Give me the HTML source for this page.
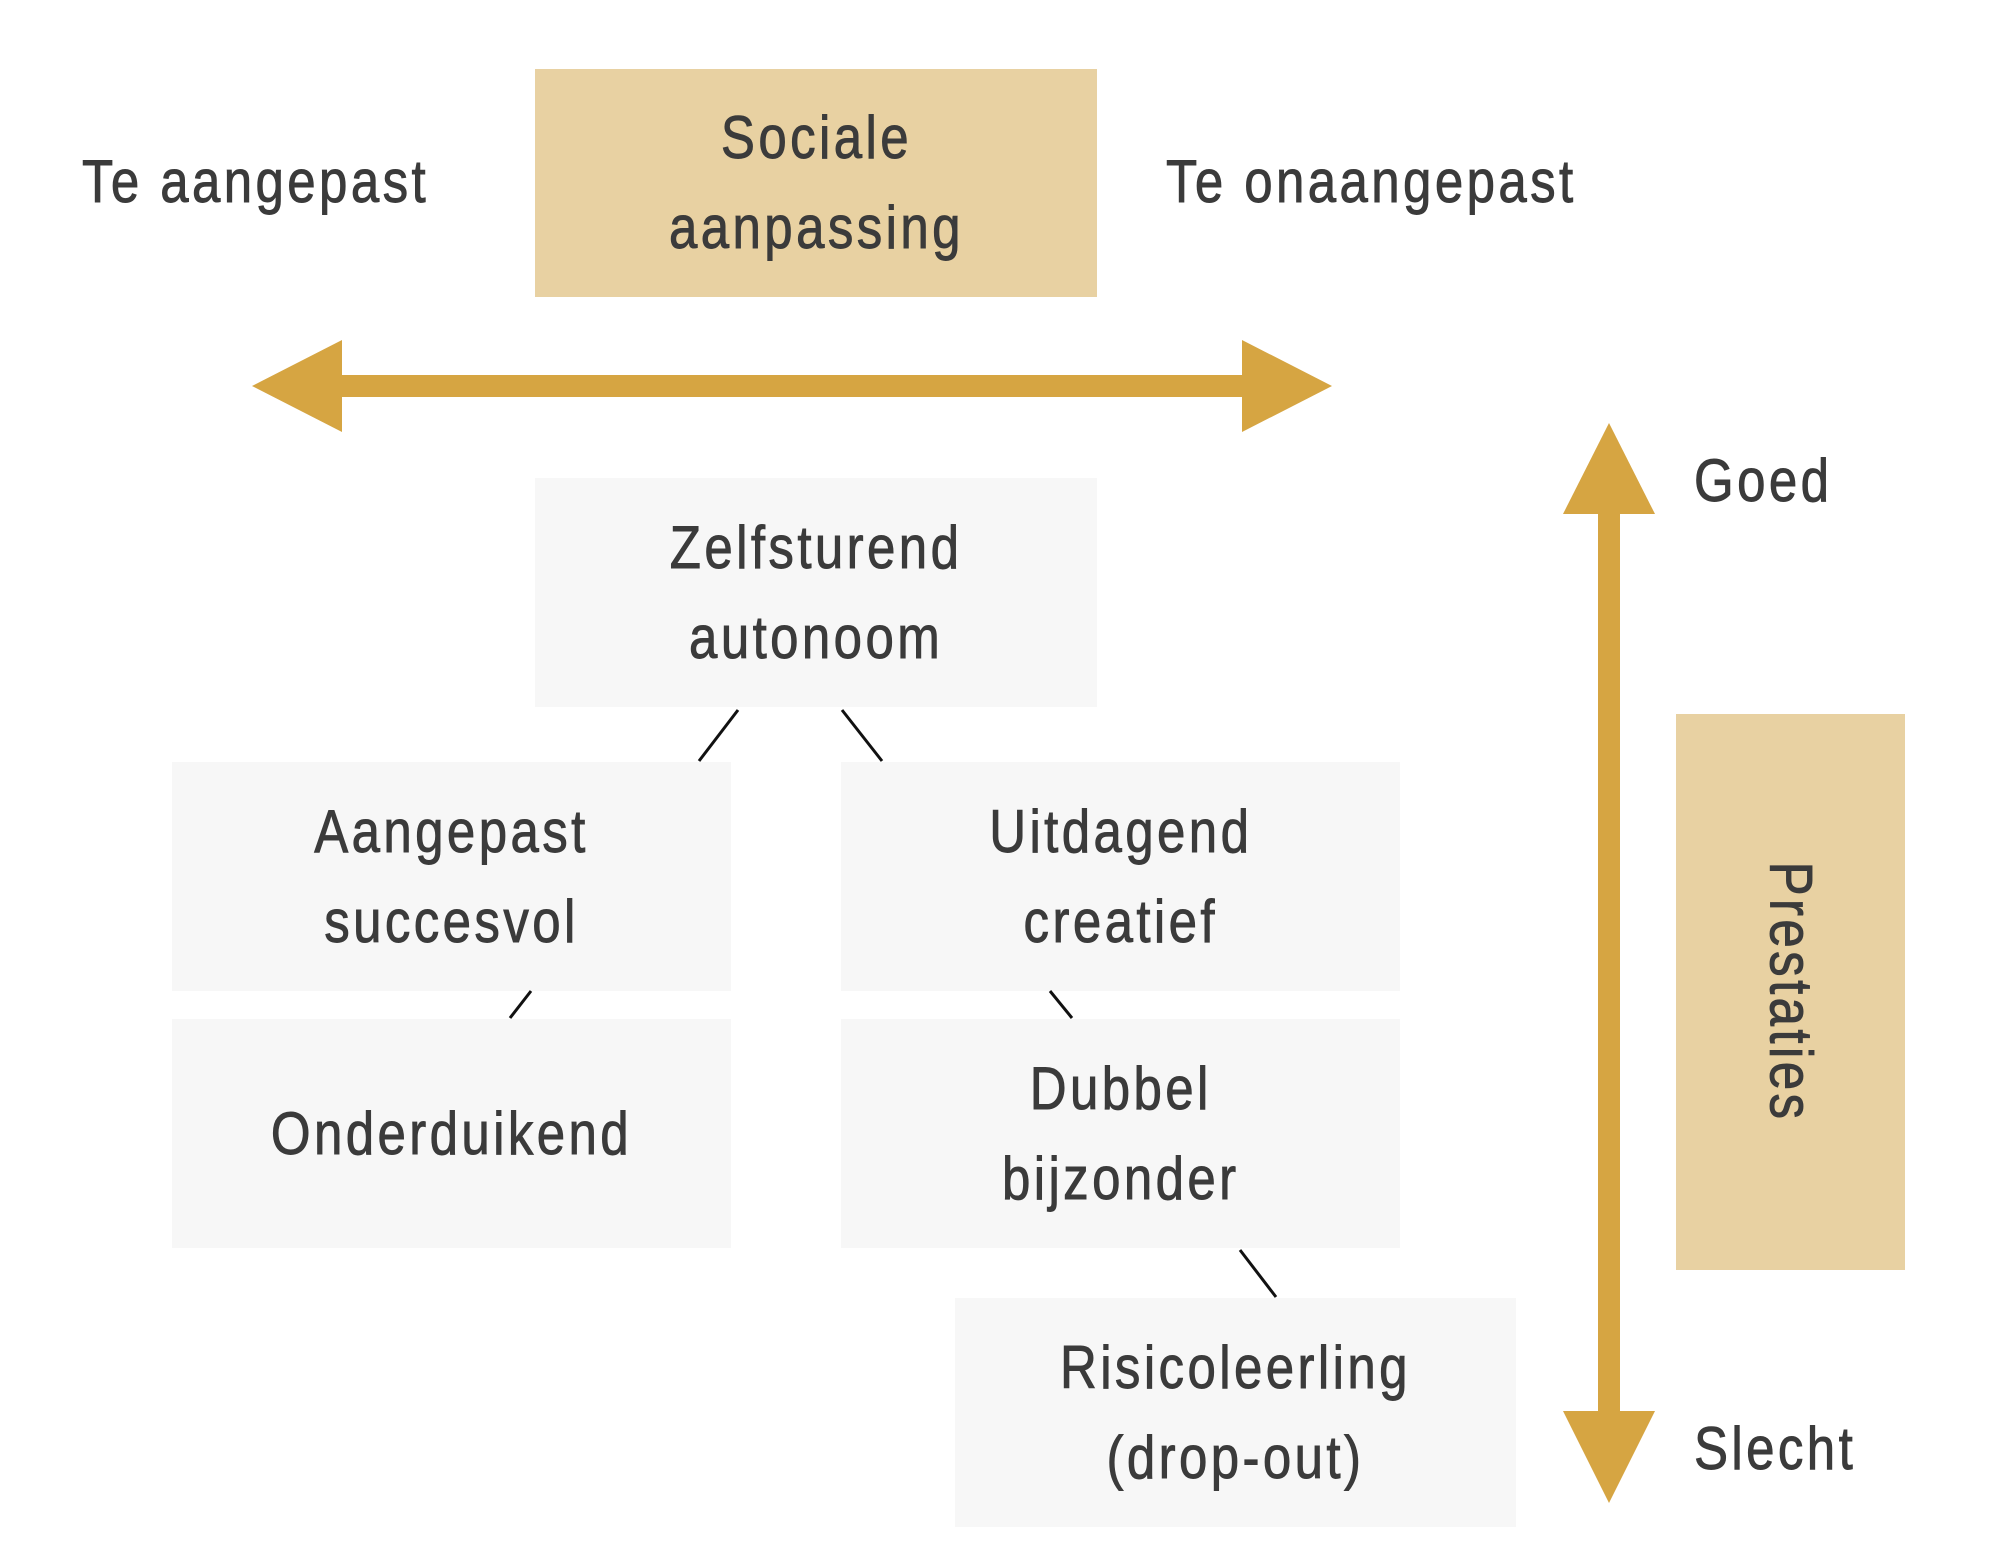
<!DOCTYPE html>
<html><head><meta charset="utf-8"><style>
body{margin:0;width:1994px;height:1562px;background:#fff;position:relative;overflow:hidden;font-family:"Liberation Sans",sans-serif;color:#3b3b3b}
.b{position:absolute;background:#f7f7f7;display:flex;align-items:center;justify-content:center;text-align:center}
.g{background:#e8d1a2}
.t{font-size:60px;line-height:90px;transform:scaleX(0.85);white-space:nowrap;letter-spacing:4px;-webkit-text-stroke:0.9px #3b3b3b}
.l{position:absolute;font-size:60px;transform:scaleX(0.85);transform-origin:left center;white-space:nowrap;letter-spacing:4px;-webkit-text-stroke:0.9px #3b3b3b}
</style></head><body>
<div class="b g" style="left:535px;top:69px;width:562px;height:228px"><div class="t">Sociale<br>aanpassing</div></div>
<div class="l" style="left:82px;top:147px">Te aangepast</div>
<div class="l" style="left:1166px;top:147px">Te onaangepast</div>
<div class="l" style="left:1694px;top:446px">Goed</div>
<div class="l" style="left:1694px;top:1414px">Slecht</div>
<div class="b" style="left:535px;top:478px;width:562px;height:229px"><div class="t">Zelfsturend<br>autonoom</div></div>
<div class="b" style="left:172px;top:762px;width:559px;height:229px"><div class="t">Aangepast<br>succesvol</div></div>
<div class="b" style="left:841px;top:762px;width:559px;height:229px"><div class="t">Uitdagend<br>creatief</div></div>
<div class="b" style="left:172px;top:1019px;width:559px;height:229px"><div class="t">Onderduikend</div></div>
<div class="b" style="left:841px;top:1019px;width:559px;height:229px"><div class="t">Dubbel<br>bijzonder</div></div>
<div class="b" style="left:955px;top:1298px;width:561px;height:229px"><div class="t">Risicoleerling<br>(drop-out)</div></div>
<div class="b g" style="left:1676px;top:714px;width:229px;height:556px"><div class="t" style="transform:rotate(90deg) scaleX(0.85)">Prestaties</div></div>
<svg width="1994" height="1562" style="position:absolute;left:0;top:0">
<g fill="#d6a542">
<rect x="330" y="375" width="935" height="22"/>
<polygon points="252,386 342,340 342,432"/>
<polygon points="1332,386 1242,340 1242,432"/>
<rect x="1598" y="500" width="22" height="925"/>
<polygon points="1609,423 1563,514 1655,514"/>
<polygon points="1609,1503 1563,1411 1655,1411"/>
</g>
<g stroke="#111" stroke-width="3">
<line x1="738" y1="710" x2="699" y2="761"/>
<line x1="842" y1="710" x2="882" y2="761"/>
<line x1="531" y1="991" x2="510" y2="1018"/>
<line x1="1050" y1="991" x2="1072" y2="1018"/>
<line x1="1240" y1="1250" x2="1276" y2="1297"/>
</g>
</svg>
</body></html>
